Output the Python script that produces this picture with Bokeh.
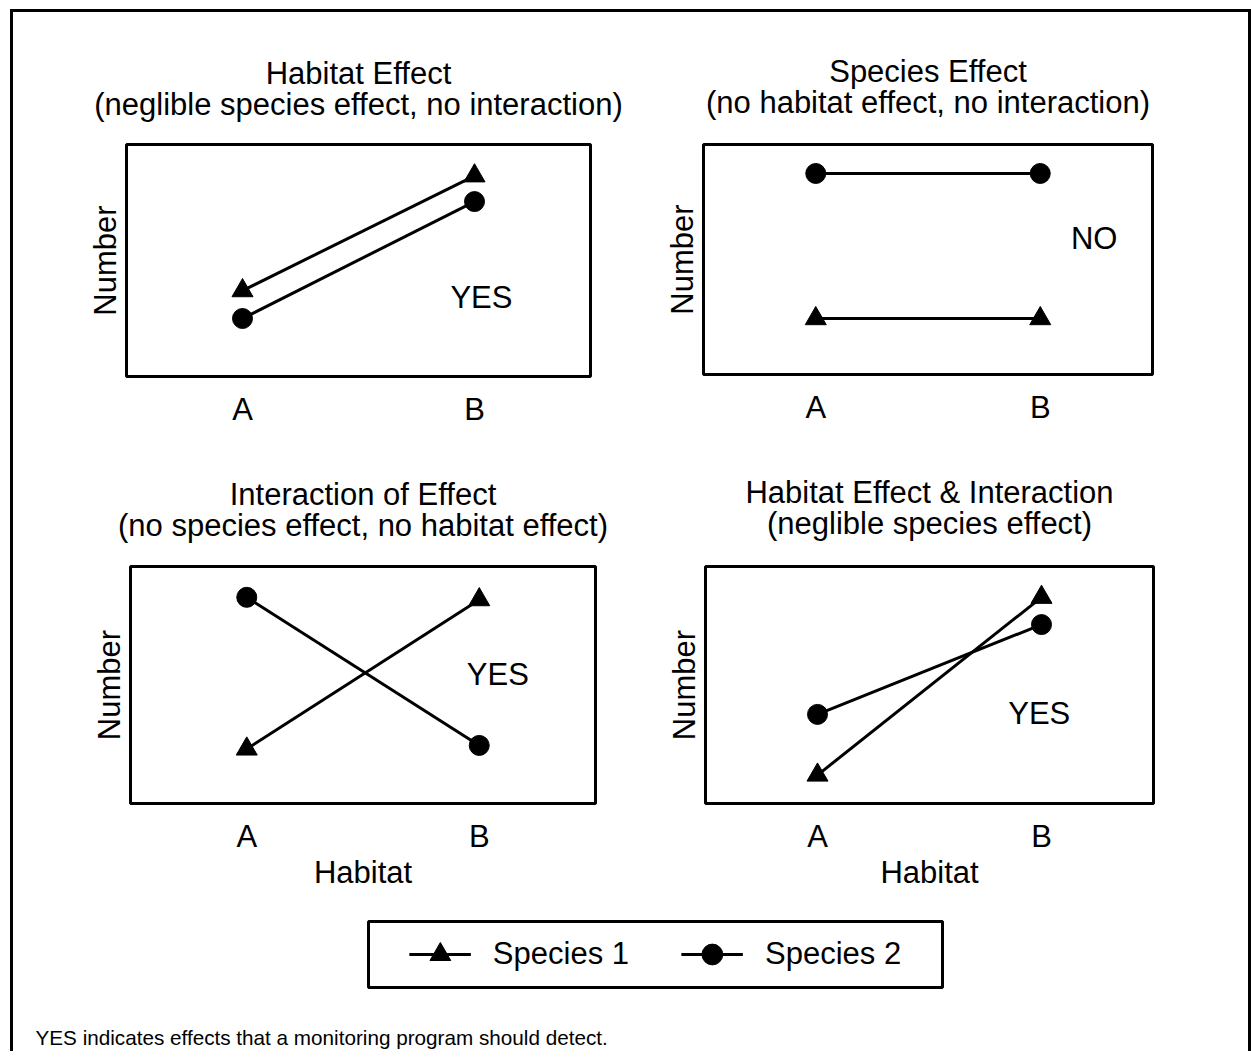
from bokeh.plotting import figure
from bokeh.layouts import column, row
from bokeh.models import Range1d, FixedTicker, Label, Legend, LegendItem, ColumnDataSource, Title
from bokeh.embed import file_html
from bokeh.resources import INLINE

FONT = "Liberation Sans"

# ---------------- data ----------------
habitats = ["A", "B"]
panel_titles = [
    ("Habitat Effect", "(neglible species effect, no interaction)"),
    ("Species Effect", "(no habitat effect, no interaction)"),
    ("Interaction of Effect", "(no species effect, no habitat effect)"),
    ("Habitat Effect & Interaction", "(neglible species effect)"),
]
species1 = [[3.7, 8.65], [2.43, 2.43], [2.3, 8.6], [1.2, 8.7]]
species2 = [[2.5, 7.54], [8.74, 8.74], [8.7, 2.45], [3.76, 7.55]]
verdicts = ["YES", "NO", "YES", "YES"]
x_labels = [None, None, "Habitat", "Habitat"]
series_names = ["Species 1", "Species 2"]
footnote = "YES indicates effects that a monitoring program should detect."

# ---------------- layout constants ----------------
verdict_pos = [(2.03, 3.4), (2.24, 5.91), (2.08, 5.44), (1.99, 3.8)]
# (standoff of subtitle line, standoff of main title line)
title_standoffs = [(46, -58), (50, -62), (48, -60), (52, -64)]
geoms = [
    dict(left=113, fw=464, right=50, top=132, fh=232, bottom=64),
    dict(left=63, fw=449, right=96, top=131, fh=230, bottom=67),
    dict(left=117, fw=465, right=45, top=126, fh=237, bottom=97),
    dict(left=65, fw=448, right=95, top=125, fh=237, bottom=98),
]
LW = 3
FS = "31px"

xs = [i + 1 for i in range(len(habitats))]


def make_panel(i):
    g = geoms[i]
    p = figure(frame_width=g["fw"], frame_height=g["fh"],
               min_border_left=g["left"], min_border_right=g["right"],
               min_border_top=g["top"], min_border_bottom=g["bottom"],
               x_range=Range1d(0.5, len(habitats) + 0.5), y_range=Range1d(0, 10),
               output_backend="svg", toolbar_location=None, tools="")
    s_sub, s_main = title_standoffs[i]
    for txt, stand in ((panel_titles[i][1], s_sub), (panel_titles[i][0], s_main)):
        p.add_layout(Title(text=txt, align="center", text_font=FONT, text_font_size=FS,
                           text_font_style="normal", text_color="black",
                           standoff=stand), "above")
    p.outline_line_color = "black"
    p.outline_line_width = LW
    p.grid.visible = False
    p.background_fill_color = "white"
    p.border_fill_color = "white"

    xa = p.xaxis[0]
    xa.ticker = FixedTicker(ticks=xs)
    xa.major_label_overrides = {x: h for x, h in zip(xs, habitats)}
    xa.major_label_text_font = FONT
    xa.major_label_text_font_size = FS
    xa.major_label_text_color = "black"
    xa.major_label_standoff = 15
    xa.major_tick_line_color = None
    xa.minor_tick_line_color = None
    xa.major_tick_out = 0
    xa.major_tick_in = 0
    xa.axis_line_color = None
    if x_labels[i]:
        xa.axis_label = x_labels[i]
        xa.axis_label_text_font = FONT
        xa.axis_label_text_font_size = FS
        xa.axis_label_text_font_style = "normal"
        xa.axis_label_text_color = "black"
        xa.axis_label_standoff = -2

    ya = p.yaxis[0]
    ya.ticker = FixedTicker(ticks=[])
    ya.major_tick_line_color = None
    ya.minor_tick_line_color = None
    ya.major_tick_out = 0
    ya.major_label_standoff = 0
    ya.axis_line_color = None
    ya.axis_label = "Number"
    ya.axis_label_text_font = FONT
    ya.axis_label_text_font_size = FS
    ya.axis_label_text_font_style = "normal"
    ya.axis_label_text_color = "black"
    ya.axis_label_standoff = 4

    p.line(xs, species1[i], line_width=LW, color="black")
    p.scatter(xs, species1[i], marker="triangle", size=21, color="black")
    p.line(xs, species2[i], line_width=LW, color="black")
    p.scatter(xs, species2[i], marker="circle", size=20, color="black")

    vx, vy = verdict_pos[i]
    p.add_layout(Label(x=vx, y=vy, text=verdicts[i], text_align="center",
                       text_baseline="middle", text_font=FONT, text_font_size=FS,
                       text_color="black"))
    return p


panels = [make_panel(i) for i in range(4)]

# ---------------- legend ----------------
lf = figure(frame_width=574, frame_height=66, min_border_left=355, min_border_right=306,
            min_border_top=21, min_border_bottom=18, x_axis_location=None,
            y_axis_location=None, toolbar_location=None, tools="",
            output_backend="svg", x_range=Range1d(0, 1), y_range=Range1d(0, 1))
lf.grid.visible = False
lf.outline_line_color = "black"
lf.outline_line_width = LW
nan = float("nan")
src = ColumnDataSource(dict(x=[nan], y=[nan]))
l1 = lf.line("x", "y", source=src, line_width=LW, color="black")
m1 = lf.scatter("x", "y", source=src, marker="triangle", size=21, color="black")
l2 = lf.line("x", "y", source=src, line_width=LW, color="black")
m2 = lf.scatter("x", "y", source=src, marker="circle", size=20, color="black")
legend = Legend(items=[LegendItem(label=series_names[0], renderers=[l1, m1]),
                       LegendItem(label=series_names[1], renderers=[l2, m2])],
                orientation="horizontal", location="center",
                border_line_color=None, background_fill_alpha=0,
                padding=0, margin=0, spacing=52, glyph_width=62, glyph_height=52,
                label_standoff=22, label_text_font=FONT, label_text_font_size=FS,
                label_text_color="black")
lf.add_layout(legend, "center")

# ---------------- footnote ----------------
ff = figure(width=1235, height=46, min_border=0, x_range=Range1d(0, 1235),
            y_range=Range1d(0, 46), x_axis_location=None, y_axis_location=None,
            toolbar_location=None, tools="", output_backend="svg")
ff.grid.visible = False
ff.outline_line_color = None
ff.add_layout(Label(x=22, y=14, text=footnote, text_baseline="middle",
                    text_font=FONT, text_font_size="20.7px", text_color="black"))

layout = column(row(panels[0], panels[1]), row(panels[2], panels[3]), row(lf), row(ff),
                margin=(9, 0, 0, 10),
                styles={"border-top": "3px solid black", "border-left": "3px solid black",
                        "border-right": "3px solid black", "box-sizing": "content-box"})

open("out.html", "w").write(file_html(layout, INLINE))
